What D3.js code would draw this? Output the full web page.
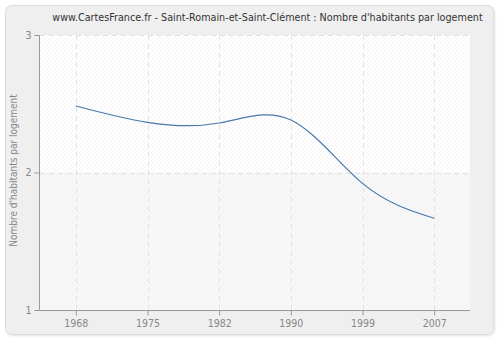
<!DOCTYPE html>
<html>
<head>
<meta charset="utf-8">
<script src="https://cdn.jsdelivr.net/npm/d3@7"></script>
<style>
  html, body { margin: 0; padding: 0; background: #ffffff; }
  svg { display: block; }
  text { font-family: "DejaVu Sans Condensed", "DejaVu Sans", Verdana, sans-serif; }
</style>
</head>
<body>
<svg id="chart" width="500" height="340"></svg>
<script>
// Census years and average number of inhabitants per dwelling
const years = ["1968", "1975", "1982", "1990", "1999", "2007"];
const values = [2.484, 2.365, 2.36, 2.382, 1.921, 1.667];
const yTicks = [1, 2, 3];
const titleText = "www.CartesFrance.fr - Saint-Romain-et-Saint-Clément : Nombre d'habitants par logement";
const yLabel = "Nombre d'habitants par logement";

const svg = d3.select("#chart");
const plot = { left: 40, top: 35, right: 470, bottom: 310 };
const FONT = "DejaVu Sans Condensed, DejaVu Sans, Verdana, sans-serif";

// Outer panel
const defs = svg.append("defs");
const shadow = defs.append("filter").attr("id", "shadow").attr("x", "-5%").attr("y", "-5%").attr("width", "110%").attr("height", "110%");
shadow.append("feDropShadow").attr("dx", 1).attr("dy", 1).attr("stdDeviation", 1).attr("flood-color", "#000").attr("flood-opacity", 0.12);

svg.append("rect")
  .attr("x", 5.5).attr("y", 5.5)
  .attr("width", 488).attr("height", 329)
  .attr("rx", 6).attr("ry", 6)
  .attr("fill", "#efefef")
  .attr("stroke", "#dcdcdc")
  .attr("filter", "url(#shadow)");

// Hatched fill patterns for the plot bands
function hatch(id, bg, line) {
  const p = defs.append("pattern")
    .attr("id", id)
    .attr("patternUnits", "userSpaceOnUse")
    .attr("width", 4).attr("height", 4);
  p.append("rect").attr("width", 4).attr("height", 4).attr("fill", bg);
  p.append("path")
    .attr("d", "M-1,1 l2,-2 M0,4 l4,-4 M3,5 l2,-2")
    .attr("stroke", line).attr("stroke-width", 0.7);
}
hatch("hatchA", "#ffffff", "#eeeeee");
hatch("hatchB", "#f8f8f8", "#ececec");

const x = d3.scalePoint().domain(years).range([plot.left, plot.right]).padding(0.5);
const y = d3.scaleLinear().domain([1, 3]).range([plot.bottom, plot.top]);

// Alternating bands between y ticks
for (let i = 0; i < yTicks.length - 1; i++) {
  const lo = yTicks[i], hi = yTicks[i + 1];
  svg.append("rect")
    .attr("x", plot.left).attr("y", y(hi))
    .attr("width", plot.right - plot.left)
    .attr("height", y(lo) - y(hi))
    .attr("fill", i % 2 === 0 ? "url(#hatchB)" : "url(#hatchA)");
}

// Dashed grid
const grid = svg.append("g").attr("stroke", "#e2e2e2").attr("stroke-dasharray", "5,4").attr("stroke-width", 1);
years.forEach(yr => {
  grid.append("line")
    .attr("x1", Math.round(x(yr)) + 0.5).attr("x2", Math.round(x(yr)) + 0.5)
    .attr("y1", plot.top).attr("y2", plot.bottom);
});
yTicks.forEach(t => {
  grid.append("line")
    .attr("x1", plot.left).attr("x2", plot.right)
    .attr("y1", Math.round(y(t)) + 0.5).attr("y2", Math.round(y(t)) + 0.5);
});

// Axes
const xAxis = d3.axisBottom(x).tickSize(5).tickSizeOuter(0).tickPadding(4);
const yAxis = d3.axisLeft(y).tickValues(yTicks).tickFormat(d3.format("d")).tickSize(5).tickSizeOuter(0).tickPadding(3);

const gx = svg.append("g").attr("transform", `translate(0,${plot.bottom + 0.5})`).call(xAxis);
const gy = svg.append("g").attr("transform", `translate(${plot.left - 0.5},0)`).call(yAxis);
[gx, gy].forEach(g => {
  g.select(".domain").attr("stroke", "#999999");
  g.selectAll(".tick line").attr("stroke", "#999999");
  g.selectAll(".tick text").attr("fill", "#888888").attr("font-size", 10.5)
    .style("font-family", FONT);
});
gx.select(".domain").attr("d", `M${plot.left - 0.5},0H${plot.right}`);
gy.select(".domain").attr("d", `M0,${plot.top}V${plot.bottom + 0.5}`);

// Data line
const line = d3.line()
  .x((d, i) => x(years[i]))
  .y(d => y(d))
  .curve(d3.curveNatural);
svg.append("path")
  .datum(values)
  .attr("d", line)
  .attr("fill", "none")
  .attr("stroke", "#4a78ad")
  .attr("stroke-width", 1.2);

// Title, fitted to its span
const title = svg.append("text")
  .attr("x", 267.5).attr("y", 21)
  .attr("text-anchor", "middle")
  .attr("font-size", 10)
  .attr("fill", "#333333")
  .text(titleText);
const tw = title.node().getComputedTextLength();
title.attr("font-size", 10 * 431 / tw);

// Y axis label
svg.append("text")
  .attr("transform", `translate(17,${(plot.top + plot.bottom) / 2 - 2}) rotate(-90)`)
  .attr("text-anchor", "middle")
  .attr("font-size", 10)
  .attr("fill", "#888888")
  .text(yLabel);
</script>
</body>
</html>
